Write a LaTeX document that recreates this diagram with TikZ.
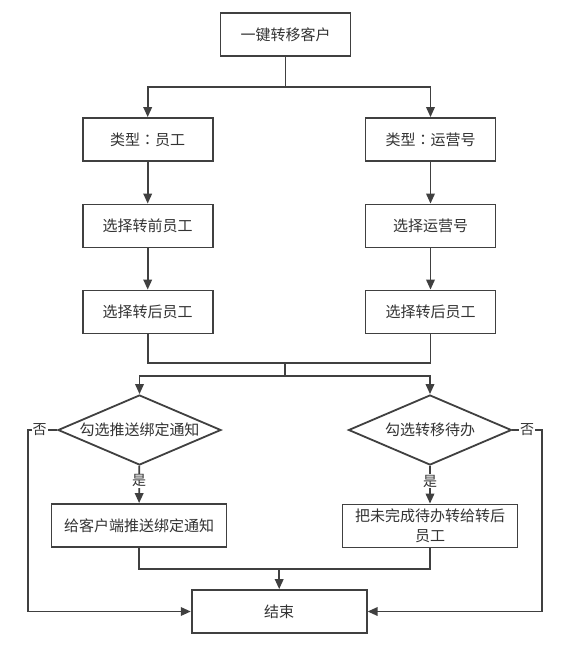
\documentclass[tikz,border=0pt]{standalone}
\usepackage{fontspec}
\newfontfamily\cjk{Noto Sans CJK SC}
\newfontfamily\cjkmark{Noto Sans CJK TC}
\usetikzlibrary{arrows.meta}
\usetikzlibrary{shapes.geometric}
\usetikzlibrary{positioning}
\definecolor{lineGray}{RGB}{64,64,64}
\definecolor{textGray}{RGB}{51,51,51}
\newcommand{\wcolon}{{\cjkmark ：}}
\tikzset{
  stepbox/.style = {draw = lineGray, line width = 1.8pt, fill = white, text = textGray,
    minimum width = 130pt, minimum height = 43pt, inner sep = 0pt, font = \cjk\fontsize{15}{20}\selectfont},
  widebox/.style = {stepbox, minimum width = 175pt},
  choice/.style = {diamond, draw = lineGray, line width = 1.8pt, fill = white, text = textGray,
    aspect = 2.33, minimum width = 163pt, minimum height = 70pt, inner sep = 0pt, font = \cjk\fontsize{15}{20}\selectfont},
  tag/.style = {fill = white, inner sep = 1pt, text = textGray, font = \cjk\fontsize{14}{16}\selectfont}
}
\begin{document}
\begin{tikzpicture}[x = 1pt, y = -1pt, line width = 1.8pt, draw = lineGray, >={Triangle[length = 10pt, width = 8.5pt]}]
\useasboundingbox[fill = white] (0, 0) rectangle (568, 649);
% boxes
\node[stepbox] (start) at (285.5, 34.5) {一键转移客户};
\node[stepbox] (typeStaff) at (147.7, 139.5) {类型\wcolon 员工};
\node[stepbox] (typeOps) at (430.5, 139.5) {类型\wcolon 运营号};
\node[stepbox] (pickOld) at (147.7, 226) {选择转前员工};
\node[stepbox] (pickOps) at (430.5, 226) {选择运营号};
\node[stepbox] (pickNewL) at (147.7, 312) {选择转后员工};
\node[stepbox] (pickNewR) at (430.5, 312) {选择转后员工};
\node[choice] (askNotify) at (139.5, 430) {勾选推送绑定通知};
\node[choice] (askTodo) at (430, 430) {勾选转移待办};
\node[widebox] (doNotify) at (139, 525.5) {给客户端推送绑定通知};
\node[widebox, align = center] (doTodo) at (430, 526) {把未完成待办转给转后\\员工};
\node[widebox] (finish) at (279.2, 611.5) {结束};
% helper points
\coordinate (splitA) at (285.5, 87);
\coordinate (joinA) at (285.3, 363.3);
\coordinate (splitB) at (285.3, 376);
\coordinate (joinB) at (279.2, 569);
\coordinate (noL) at (28, 430);
\coordinate (noR) at (541.7, 430);
% connectors
\draw (start) -- (splitA);
\draw[->] (splitA) -| (typeStaff);
\draw[->] (splitA) -| (typeOps);
\draw[->] (typeStaff) -- (pickOld);
\draw[->] (pickOld) -- (pickNewL);
\draw[->] (typeOps) -- (pickOps);
\draw[->] (pickOps) -- (pickNewR);
\draw (pickNewL) |- (joinA) -| (pickNewR);
\draw (joinA) -- (splitB);
\draw[->] (splitB) -| (askNotify);
\draw[->] (splitB) -| (askTodo);
\draw[->] (askNotify) -- node[tag, pos = 0.4] (yesL) {是} (doNotify);
\draw[->] (askTodo) -- node[tag, pos = 0.4] (yesR) {是} (doTodo);
\draw[->] (askNotify.west) -- node[tag, pos = 0.6] (noTagL) {否} (noL) |- (finish.west);
\draw[->] (askTodo.east) -- node[tag] (noTagR) {否} (noR) |- (finish.east);
\draw (doNotify) |- (joinB) -| (doTodo);
\draw[->] (joinB) -- (finish);
\end{tikzpicture}
\end{document}
